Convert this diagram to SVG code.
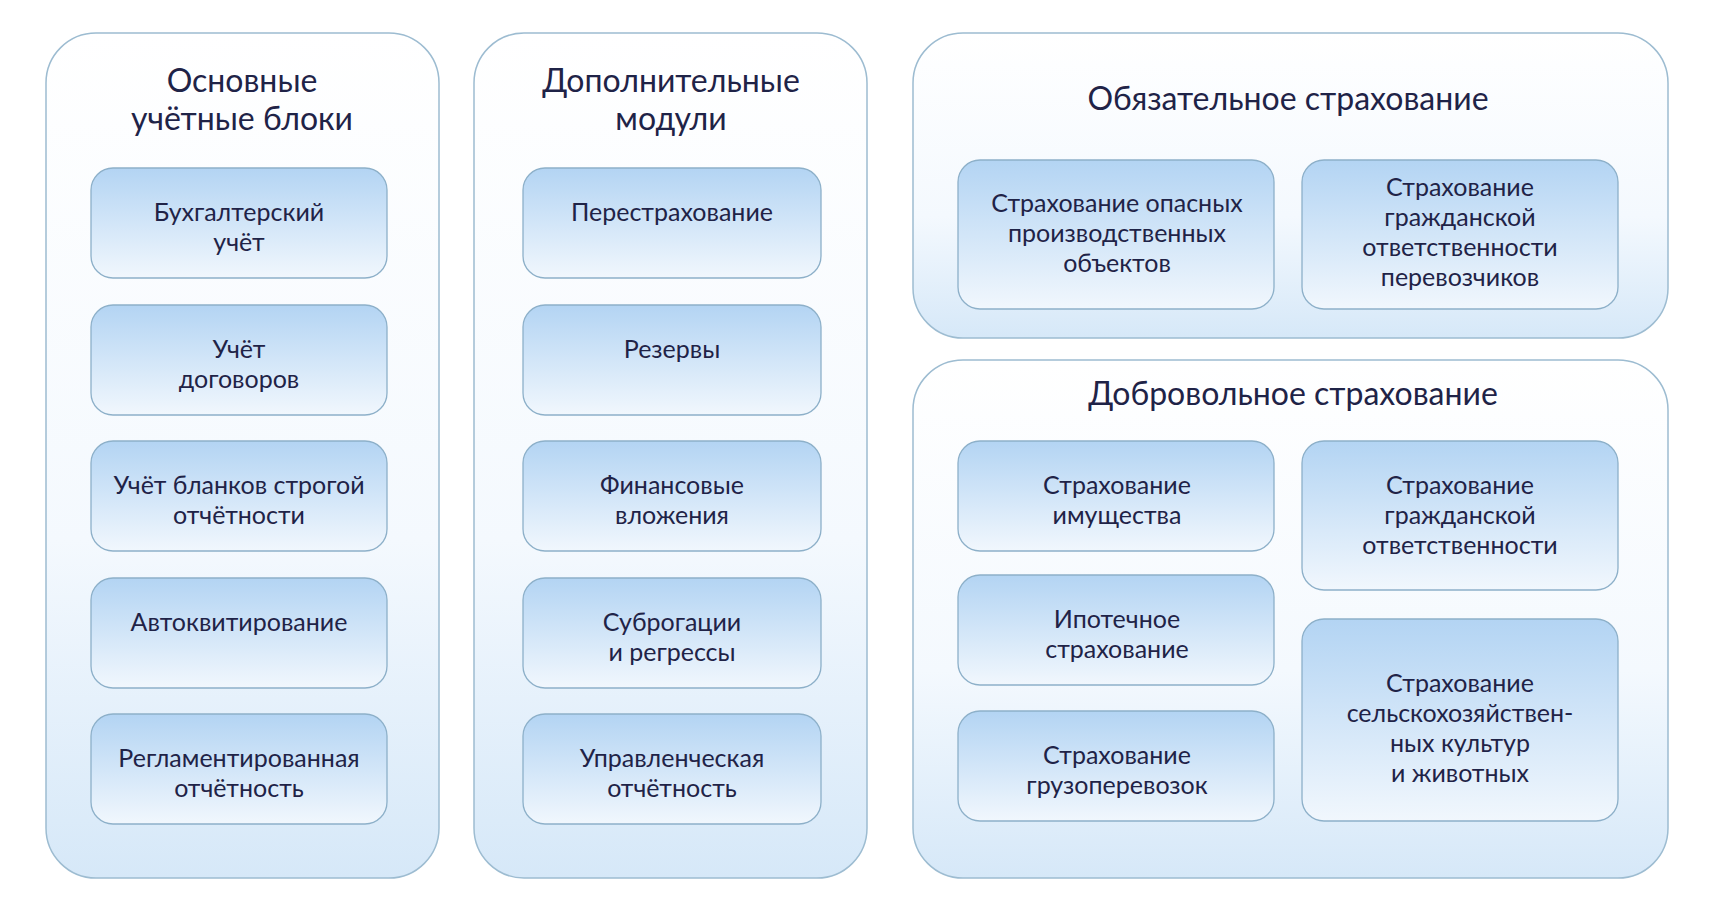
<svg xmlns="http://www.w3.org/2000/svg" width="1712" height="910" viewBox="0 0 1712 910">
<defs>
<linearGradient id="pg" x1="0" y1="0" x2="0" y2="1"><stop offset="0" stop-color="#ffffff"/><stop offset="0.6" stop-color="#f4f9fe"/><stop offset="1" stop-color="#d6e8f8"/></linearGradient>
<linearGradient id="ng" x1="0" y1="0" x2="0" y2="1"><stop offset="0" stop-color="#b3d4f3"/><stop offset="1" stop-color="#f1f7fd"/></linearGradient>
<style>
.panel{fill:url(#pg);stroke:#9dbcd1;stroke-width:1.5}
.node{fill:url(#ng);stroke:#8db0c9;stroke-width:1.3}
text{font-family:Lato,"Open Sans",sans-serif;fill:#1f2347;text-anchor:middle}
.t{font-size:32px}
.n{font-size:25px}
</style>
</defs>
<rect width="1712" height="910" fill="#fff"/>
<g id="panel-main"><rect class="panel" x="46" y="33" width="393" height="845" rx="50"/>
<text class="t" x="242" y="92">Основные</text><text class="t" x="242" y="130">учётные блоки</text></g>
<g id="panel-extra"><rect class="panel" x="474" y="33" width="393" height="845" rx="50"/>
<text class="t" x="671" y="92">Дополнительные</text><text class="t" x="671" y="130">модули</text></g>
<g id="panel-mandatory"><rect class="panel" x="913" y="33" width="755" height="305" rx="50"/>
<text class="t" x="1288" y="110">Обязательное страхование</text></g>
<g id="panel-voluntary"><rect class="panel" x="913" y="360" width="755" height="518" rx="50"/>
<text class="t" x="1293" y="405">Добровольное страхование</text></g>

<g id="n1"><rect class="node" x="91" y="168" width="296" height="110" rx="22"/><text class="n" x="239" y="221">Бухгалтерский</text><text class="n" x="239" y="251">учёт</text></g>
<g id="n2"><rect class="node" x="91" y="305" width="296" height="110" rx="22"/><text class="n" x="239" y="358">Учёт</text><text class="n" x="239" y="388">договоров</text></g>
<g id="n3"><rect class="node" x="91" y="441" width="296" height="110" rx="22"/><text class="n" x="239" y="494">Учёт бланков строгой</text><text class="n" x="239" y="524">отчётности</text></g>
<g id="n4"><rect class="node" x="91" y="578" width="296" height="110" rx="22"/><text class="n" x="239" y="631">Автоквитирование</text></g>
<g id="n5"><rect class="node" x="91" y="714" width="296" height="110" rx="22"/><text class="n" x="239" y="767">Регламентированная</text><text class="n" x="239" y="797">отчётность</text></g>

<g id="m1"><rect class="node" x="523" y="168" width="298" height="110" rx="22"/><text class="n" x="672" y="221">Перестрахование</text></g>
<g id="m2"><rect class="node" x="523" y="305" width="298" height="110" rx="22"/><text class="n" x="672" y="358">Резервы</text></g>
<g id="m3"><rect class="node" x="523" y="441" width="298" height="110" rx="22"/><text class="n" x="672" y="494">Финансовые</text><text class="n" x="672" y="524">вложения</text></g>
<g id="m4"><rect class="node" x="523" y="578" width="298" height="110" rx="22"/><text class="n" x="672" y="631">Суброгации</text><text class="n" x="672" y="661">и регрессы</text></g>
<g id="m5"><rect class="node" x="523" y="714" width="298" height="110" rx="22"/><text class="n" x="672" y="767">Управленческая</text><text class="n" x="672" y="797">отчётность</text></g>

<g id="o1"><rect class="node" x="958" y="160" width="316" height="149" rx="22"/><text class="n" x="1117" y="212">Страхование опасных</text><text class="n" x="1117" y="242">производственных</text><text class="n" x="1117" y="272">объектов</text></g>
<g id="o2"><rect class="node" x="1302" y="160" width="316" height="149" rx="22"/><text class="n" x="1460" y="196">Страхование</text><text class="n" x="1460" y="226">гражданской</text><text class="n" x="1460" y="256">ответственности</text><text class="n" x="1460" y="286">перевозчиков</text></g>

<g id="v1"><rect class="node" x="958" y="441" width="316" height="110" rx="22"/><text class="n" x="1117" y="494">Страхование</text><text class="n" x="1117" y="524">имущества</text></g>
<g id="v2"><rect class="node" x="958" y="575" width="316" height="110" rx="22"/><text class="n" x="1117" y="628">Ипотечное</text><text class="n" x="1117" y="658">страхование</text></g>
<g id="v3"><rect class="node" x="958" y="711" width="316" height="110" rx="22"/><text class="n" x="1117" y="764">Страхование</text><text class="n" x="1117" y="794">грузоперевозок</text></g>
<g id="v4"><rect class="node" x="1302" y="441" width="316" height="149" rx="22"/><text class="n" x="1460" y="494">Страхование</text><text class="n" x="1460" y="524">гражданской</text><text class="n" x="1460" y="554">ответственности</text></g>
<g id="v5"><rect class="node" x="1302" y="619" width="316" height="202" rx="22"/><text class="n" x="1460" y="692">Страхование</text><text class="n" x="1460" y="722">сельскохозяйствен-</text><text class="n" x="1460" y="752">ных культур</text><text class="n" x="1460" y="782">и животных</text></g>
<g id="connectors"/>
</svg>
